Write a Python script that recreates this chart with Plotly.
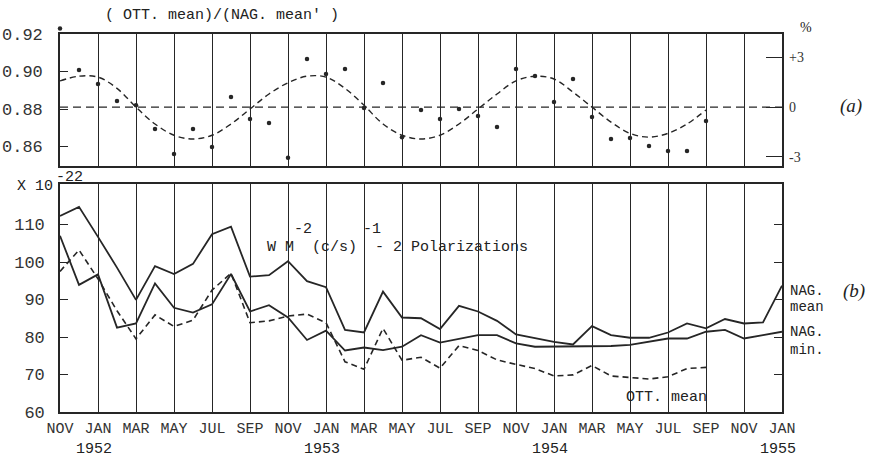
import plotly.graph_objects as go

# ---------------- data ----------------
# month index 0 = NOV 1951 ... 38 = JAN 1955
tick_months = list(range(0, 39, 2))
tick_labels = ["NOV", "JAN", "MAR", "MAY", "JUL", "SEP",
               "NOV", "JAN", "MAR", "MAY", "JUL", "SEP",
               "NOV", "JAN", "MAR", "MAY", "JUL", "SEP",
               "NOV", "JAN"]
year_months = [2, 14, 26, 38]
year_labels = ["1952", "1953", "1954", "1955"]

# panel (a): ratio OTT mean / NAG mean
ratio_months = list(range(35))
ratio_values = [0.923, 0.9008, 0.8933, 0.8843, 0.882, 0.8693, 0.856, 0.8693,
                0.8597, 0.8864, 0.8747, 0.8725, 0.854, 0.9067, 0.8987, 0.9013,
                0.8805, 0.8939, 0.865, 0.8795, 0.8747, 0.880, 0.8763, 0.8704,
                0.9013, 0.8976, 0.8837, 0.896, 0.8757, 0.864, 0.8645, 0.8603,
                0.8576, 0.8576, 0.8736]
fit_values = [0.895, 0.8975, 0.897, 0.891, 0.881, 0.872, 0.866, 0.864, 0.866,
              0.872, 0.880, 0.888, 0.894, 0.8975, 0.897, 0.891, 0.882, 0.872,
              0.866, 0.864, 0.866, 0.872, 0.880, 0.888, 0.895, 0.8975, 0.896,
              0.889, 0.881, 0.873, 0.867, 0.865, 0.867, 0.872, 0.8795]
ratio_ref = 0.881
pct_ticks = [3, 0, -3]
pct_labels = ["+3", "0", "-3"]

# panel (b): flux densities (x 10^-22 W m^-2 (c/s)^-1)
nag_months = list(range(39))
nag_mean = [112.3, 114.7, 106.7, 98.5, 89.9, 98.9, 96.8, 99.5, 107.4, 109.4,
            96.1, 96.5, 100.2, 94.9, 93.3, 81.9, 81.2, 92.1, 85.2, 85.0,
            82.1, 88.3, 86.8, 84.3, 80.7, 79.7, 78.7, 78.0, 82.9, 80.5,
            79.8, 79.8, 81.2, 83.6, 82.3, 84.8, 83.6, 83.9, 93.7]
nag_min = [107.0, 93.9, 96.7, 82.5, 83.6, 94.3, 87.8, 86.5, 88.7, 96.8,
           86.8, 88.5, 85.2, 79.2, 81.7, 76.4, 77.2, 76.5, 77.4, 80.5,
           78.5, 79.5, 80.5, 80.5, 78.3, 77.4, 77.4, 77.4, 77.6, 77.6,
           77.9, 78.8, 79.6, 79.6, 81.4, 81.9, 79.6, 80.5, 81.4]
ott_months = list(range(35))
ott_mean = [97.5, 103.2, 95.5, 87.0, 79.5, 85.9, 82.8, 84.5, 92.5, 97.0,
            83.8, 84.3, 85.6, 86.1, 83.8, 73.4, 71.4, 82.3, 73.8, 74.6,
            71.7, 77.7, 76.4, 73.9, 72.7, 71.6, 69.6, 69.9, 72.4, 69.6,
            69.2, 68.8, 69.4, 71.6, 71.9]
flux_ticks = [60, 70, 80, 90, 100, 110]

# ---------------- styling ----------------
INK = "#262626"
MONO = "Liberation Mono"
W, H = 869, 460
ML, MR, MT, MB = 60, 87, 20, 48
PW, PH = W - ML - MR, H - MT - MB


def px(x):
    return (x - ML) / PW


def py(y):
    return (H - MB - y) / PH


TOP_Y0, TOP_Y1 = 0.8496, 0.92          # value range of panel (a), pixels 166 .. 34
scale_a = (TOP_Y1 - TOP_Y0) / (166 - 34)  # value per pixel
top_dom = [py(166), py(34)]
over_dom = [py(34), 1.0]               # strip above panel (a) for points above 0.92
over_range = [TOP_Y1, TOP_Y1 + (34 - MT) * scale_a]
bot_dom = [0.0, py(184)]

fig = go.Figure()

# panel (a)
fig.add_trace(go.Scatter(x=ratio_months, y=fit_values, mode="lines",
                         line=dict(color=INK, width=1.4, dash="6px,4px", shape="spline"),
                         xaxis="x", yaxis="y3", hoverinfo="skip"))
fig.add_trace(go.Scatter(x=ratio_months, y=ratio_values, mode="markers",
                         marker=dict(color=INK, size=4.5),
                         xaxis="x", yaxis="y", cliponaxis=False))
# same series, shown in the strip above the frame (only out-of-frame points fall here)
fig.add_trace(go.Scatter(x=ratio_months, y=ratio_values, mode="markers",
                         marker=dict(color=INK, size=4.5),
                         xaxis="x5", yaxis="y5", cliponaxis=False))

# panel (b)
fig.add_trace(go.Scatter(x=nag_months, y=nag_mean, mode="lines",
                         line=dict(color=INK, width=1.8), xaxis="x2", yaxis="y2"))
fig.add_trace(go.Scatter(x=nag_months, y=nag_min, mode="lines",
                         line=dict(color=INK, width=1.8), xaxis="x2", yaxis="y2"))
fig.add_trace(go.Scatter(x=ott_months, y=ott_mean, mode="lines",
                         line=dict(color=INK, width=1.6, dash="6px,4px"),
                         xaxis="x2", yaxis="y2"))

grid = dict(showgrid=True, gridcolor=INK, gridwidth=1.3, tick0=0, dtick=2,
            range=[0, 38], zeroline=False, showline=True, linecolor=INK,
            linewidth=1.6, mirror=True, automargin=False)

fig.update_layout(
    width=W, height=H,
    margin=dict(l=ML, r=MR, t=MT, b=MB),
    paper_bgcolor="white", plot_bgcolor="white",
    showlegend=False,
    font=dict(family=MONO, color=INK),
    xaxis=dict(domain=[0, 1], anchor="y", showticklabels=False, ticks="", **grid),
    yaxis=dict(domain=top_dom, range=[TOP_Y0, TOP_Y1],
               tickvals=[0.86, 0.88, 0.90, 0.92],
               ticktext=["0.86", "0.88", "0.90", "0.92"],
               ticks="inside", ticklen=8, tickcolor=INK, tickwidth=1.4,
               showgrid=False, zeroline=False, showline=True, linecolor=INK,
               linewidth=1.6, mirror=True, ticklabelstandoff=12, automargin=False,
               tickfont=dict(family=MONO, size=17, color="#333")),
    yaxis3=dict(overlaying="y", side="right", anchor="x",
                range=[TOP_Y0, TOP_Y1],
                tickvals=[ratio_ref * (1 + p / 100) for p in pct_ticks],
                ticktext=pct_labels,
                ticks="inside", ticklen=16, tickcolor=INK, tickwidth=1.3,
                showgrid=False, zeroline=False, showline=False,
                ticklabelstandoff=6, automargin=False,
                tickfont=dict(family="Liberation Serif", size=14, color="#333")),
    xaxis5=dict(domain=[0, 1], anchor="y5", range=[0, 38], visible=False,
                showgrid=False, automargin=False),
    yaxis5=dict(domain=over_dom, anchor="x5", range=over_range, visible=False,
                showgrid=False, automargin=False),
    xaxis2=dict(domain=[0, 1], anchor="y2", tickvals=tick_months, ticktext=tick_labels,
                ticks="inside", ticklen=5, tickcolor=INK, ticklabelstandoff=1,
                tickfont=dict(family=MONO, size=15, color="#333"), **grid),
    yaxis2=dict(domain=bot_dom, range=[60, 120.8], tickvals=flux_ticks,
                ticks="inside", ticklen=8, tickcolor=INK, tickwidth=1.4,
                showgrid=False, zeroline=False, showline=True, linecolor=INK,
                linewidth=1.6, mirror="ticks", ticklabelstandoff=10, automargin=False,
                tickfont=dict(family=MONO, size=17, color="#333")),
)

# reference line in panel (a)
fig.add_shape(type="line", xref="x domain", x0=0, x1=1, yref="y",
              y0=ratio_ref, y1=ratio_ref,
              line=dict(color=INK, width=1.4, dash="8px,5px"))

# white label boxes interrupting the vertical rules
fig.add_shape(type="rect", xref="paper", yref="paper", layer="between",
              x0=px(258), x1=px(533), y0=py(259), y1=py(207),
              fillcolor="white", line=dict(width=0))
fig.add_shape(type="rect", xref="paper", yref="paper", layer="between",
              x0=px(618), x1=px(716), y0=py(408), y1=py(383),
              fillcolor="white", line=dict(width=0))

NB = "\u00a0"


def ann(text, x, y, size=15, xanchor="left", family=MONO, **kw):
    fig.add_annotation(text=text, x=x, y=y, xref=kw.pop("xref", "paper"),
                       yref="paper", showarrow=False, xanchor=xanchor,
                       yanchor="middle", font=dict(family=family, size=size, color="#222"),
                       **kw)


ann("(" + NB + "OTT." + NB + "mean)/(NAG." + NB + "mean'" + NB + ")", px(103), py(15), size=15)
ann("%", px(798), py(27), size=14, family="Liberation Serif")
ann("<i>(a)</i>", px(838), py(106), size=19, family="Liberation Serif")
ann("<i>(b)</i>", px(841), py(291), size=19, family="Liberation Serif")
ann("NAG.", px(788), py(291), size=14)
ann("mean", px(788), py(307), size=14)
ann("NAG.", px(788), py(332), size=14)
ann("min.", px(788), py(350), size=14)
ann("X" + NB + "10", px(15), py(187), size=15)
ann("-22", px(54), py(178), size=15)
ann("W" + NB + "M" + NB * 2 + "(c/s)" + NB * 2 + "-" + NB + "2" + NB + "Polarizations",
    px(265), py(247), size=15)
ann("-2", px(292), py(229), size=15)
ann("-1", px(361), py(229), size=15)
ann("OTT." + NB + "mean", px(624), py(397), size=15)
for m, lab in zip(year_months, year_labels):
    ann(lab, m, py(449), size=15, xanchor="center", xref="x2", xshift=-4)

fig.write_html("out.html")
